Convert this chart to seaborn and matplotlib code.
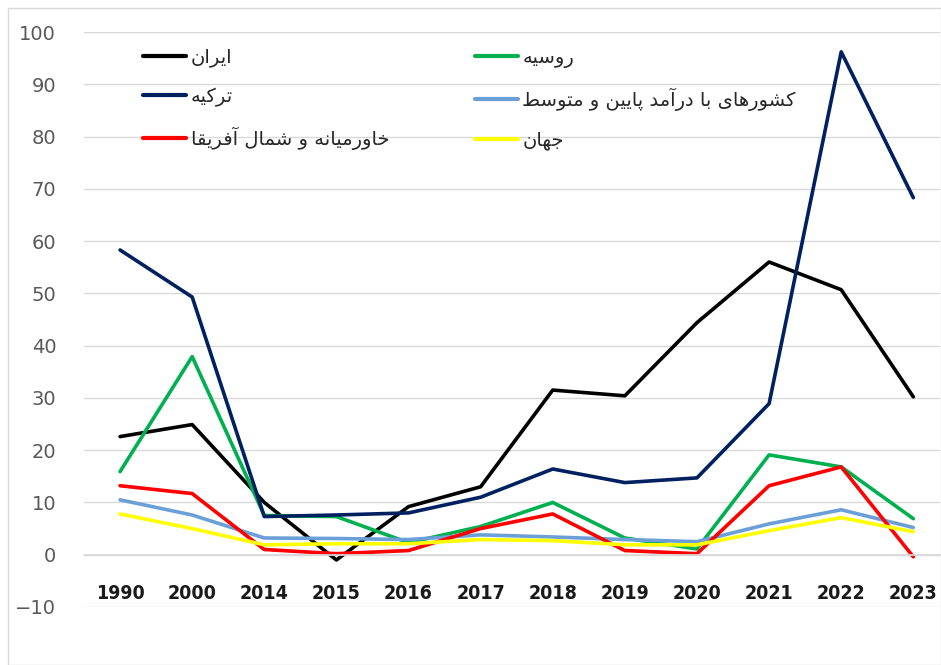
import matplotlib
matplotlib.use("Agg")
import matplotlib.pyplot as plt
import seaborn as sns
import pandas as pd
from matplotlib.patches import Rectangle
from matplotlib.lines import Line2D

years = ["1990", "2000", "2014", "2015", "2016", "2017", "2018", "2019", "2020", "2021", "2022", "2023"]
iran = [22.6, 24.9, 10.0, -1.0, 9.2, 13.0, 31.5, 30.4, 44.4, 56.0, 50.7, 30.2]
russia = [15.9, 37.9, 7.5, 7.3, 2.3, 5.4, 10.0, 3.2, 1.1, 19.1, 16.8, 6.9]
turkey = [58.3, 49.3, 7.3, 7.6, 8.0, 11.0, 16.4, 13.8, 14.7, 28.9, 96.2, 68.3]
lmic = [10.5, 7.6, 3.2, 3.1, 2.9, 3.8, 3.4, 2.9, 2.5, 5.9, 8.6, 5.2]
mena = [13.2, 11.7, 1.0, 0.2, 0.8, 5.0, 7.8, 0.8, 0.2, 13.2, 16.8, -0.4]
world = [7.8, 5.0, 1.9, 2.1, 2.1, 2.9, 2.7, 1.9, 1.9, 4.6, 7.1, 4.4]

names = ["ایران", "روسیه", "ترکیه", "کشورهای با درآمد پایین و متوسط", "خاورمیانه و شمال آفریقا", "جهان"]
series = [iran, russia, turkey, lmic, mena, world]
colors = ["#000000", "#00b050", "#002060", "#6a9fd8", "#ff0000", "#ffff00"]

# minimal Persian shaping (matplotlib has no complex text layout)
FORMS = {
    "ا": ("\uFE8D", "\uFE8E", None, None),
    "آ": ("\uFE81", "\uFE82", None, None),
    "ب": ("\uFE8F", "\uFE90", "\uFE91", "\uFE92"),
    "پ": ("\uFB56", "\uFB57", "\uFB58", "\uFB59"),
    "ت": ("\uFE95", "\uFE96", "\uFE97", "\uFE98"),
    "ج": ("\uFE9D", "\uFE9E", "\uFE9F", "\uFEA0"),
    "خ": ("\uFEA5", "\uFEA6", "\uFEA7", "\uFEA8"),
    "د": ("\uFEA9", "\uFEAA", None, None),
    "ر": ("\uFEAD", "\uFEAE", None, None),
    "س": ("\uFEB1", "\uFEB2", "\uFEB3", "\uFEB4"),
    "ش": ("\uFEB5", "\uFEB6", "\uFEB7", "\uFEB8"),
    "ط": ("\uFEC1", "\uFEC2", "\uFEC3", "\uFEC4"),
    "ف": ("\uFED1", "\uFED2", "\uFED3", "\uFED4"),
    "ق": ("\uFED5", "\uFED6", "\uFED7", "\uFED8"),
    "ک": ("\uFB8E", "\uFB8F", "\uFB90", "\uFB91"),
    "ل": ("\uFEDD", "\uFEDE", "\uFEDF", "\uFEE0"),
    "م": ("\uFEE1", "\uFEE2", "\uFEE3", "\uFEE4"),
    "ن": ("\uFEE5", "\uFEE6", "\uFEE7", "\uFEE8"),
    "ه": ("\uFEE9", "\uFEEA", "\uFEEB", "\uFEEC"),
    "و": ("\uFEED", "\uFEEE", None, None),
    "ی": ("\uFBFC", "\uFBFD", "\uFBFE", "\uFBFF"),
}


def shape(text):
    out = []
    n = len(text)
    for i, ch in enumerate(text):
        if ch not in FORMS:
            out.append(ch)
            continue
        iso, fin, ini, med = FORMS[ch]
        prev = text[i - 1] if i > 0 else None
        nxt = text[i + 1] if i < n - 1 else None
        join_prev = prev in FORMS and FORMS[prev][2] is not None
        join_next = ini is not None and nxt in FORMS
        if join_prev and join_next:
            out.append(med)
        elif join_prev:
            out.append(fin)
        elif join_next:
            out.append(ini)
        else:
            out.append(iso)
    return "".join(reversed(out))


rows = []
for name, vals in zip(names, series):
    for i, v in enumerate(vals):
        rows.append({"pos": i, "value": v, "series": name})
df = pd.DataFrame(rows)

sns.set_theme(style="white")
plt.rcParams["font.family"] = ["DejaVu Sans"]

fig = plt.figure(figsize=(9.41, 6.65), dpi=100)
ax = fig.add_axes([84 / 941, 1 - 607 / 665, (940 - 84) / 941, (607 - 32) / 665])

sns.lineplot(data=df, x="pos", y="value", hue="series", hue_order=names,
             palette=colors, linewidth=2.6, ax=ax, legend=False, sort=False)

ax.set_ylim(-10, 100)
ax.set_xlim(-0.5, 11.37)
ax.set_yticks(range(-10, 101, 10))
ax.yaxis.grid(True, color="#d9d9d9", linewidth=1)
ax.set_axisbelow(True)
for s in ["top", "right", "left"]:
    ax.spines[s].set_visible(False)
ax.spines["bottom"].set_position(("data", 0))
ax.spines["bottom"].set_color("#d9d9d9")
ax.set_xticks(range(len(years)))
ax.set_xticklabels(years, fontsize=14, fontweight="bold", color="#1a1a1a",
                   fontstretch="condensed")
ax.tick_params(axis="x", length=0, pad=21)
ax.tick_params(axis="y", length=0, pad=20, labelsize=14, labelcolor="#595959")
ax.set_xlabel("")
ax.set_ylabel("")

# legend
order = [0, 2, 4, 1, 3, 5]
handles = [Line2D([], [], color=colors[i], linewidth=3) for i in order]
labels = [shape(names[i]) for i in order]
ax.legend(handles, labels, loc="upper left", bbox_to_anchor=(0.069, 0.973), ncol=2,
          frameon=False, fontsize=14, handlelength=2.2, handletextpad=0.25,
          labelspacing=1.03, columnspacing=4.4, borderpad=0, borderaxespad=0)

fig.patches.append(Rectangle((8 / 941, 0), 1 - 8 / 941, 1 - 8 / 665, transform=fig.transFigure,
                             fill=False, edgecolor="#d9d9d9", linewidth=1))

fig.savefig("out.png", dpi=100)
